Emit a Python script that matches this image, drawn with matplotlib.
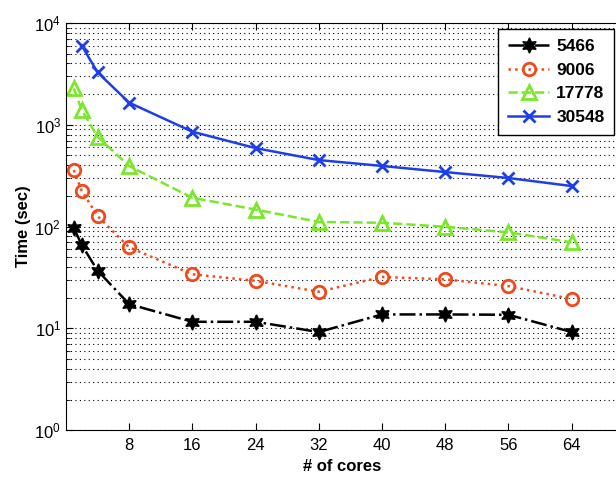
import numpy as np
import matplotlib.pyplot as plt
from matplotlib.ticker import LogLocator, NullFormatter

plt.rcParams['font.family'] = ['Liberation Sans', 'DejaVu Sans']

cores = [1, 2, 4, 8, 16, 24, 32, 40, 48, 56, 64]
t_5466 = [97, 66, 37, 17.3, 11.6, 11.6, 9.2, 13.7, 13.7, 13.6, 9.2]
t_9006 = [359, 225, 127, 62.5, 34, 29.3, 22.9, 32, 30.3, 26, 19.4]
t_17778 = [2280, 1400, 763, 393, 192, 147, 111, 109, 99.5, 87.7, 70]
cores_30548 = [2, 4, 8, 16, 24, 32, 40, 48, 56, 64]
t_30548 = [6000, 3280, 1650, 855, 590, 450, 394, 343, 300, 250]

xticks = [8, 16, 24, 32, 40, 48, 56, 64]

fig = plt.figure(figsize=(6.16, 4.79), dpi=100)
ax = fig.add_axes([0.107, 0.102, 0.898, 0.850])

ax.plot(cores, t_5466, linestyle='-.', color='black', marker=(6, 1, 0),
        markersize=11, linewidth=1.8, label='5466')
ax.plot(cores, t_9006, linestyle=':', color='#f04a1c', marker='o', markersize=9,
        markerfacecolor='none', markeredgewidth=2, linewidth=1.8, label='9006')
ax.plot(cores, t_17778, linestyle='--', color='#7ae82a', marker='^', markersize=10,
        markerfacecolor='none', markeredgewidth=2, linewidth=1.8, label='17778')
ax.plot(cores_30548, t_30548, linestyle='-', color='#1d3fe8', marker='x', markersize=9,
        markeredgewidth=2, linewidth=1.8, label='30548')

ax.set_yscale('log')
ax.set_ylim(1, 1e4)
ax.set_xlim(0, 70)
ax.set_xticks(xticks)
ax.yaxis.set_minor_locator(LogLocator(base=10, subs=np.arange(2, 10)))
ax.yaxis.set_minor_formatter(NullFormatter())
ax.grid(axis='y', which='both', linestyle=(0, (1, 3)), color='black', linewidth=0.8)
ax.tick_params(which='both', direction='in', top=True, right=False, labelsize=12)
ax.tick_params(axis='x', pad=6)
ax.tick_params(which='major', length=5)
ax.tick_params(which='minor', length=3)
ax.spines['right'].set_visible(False)

ax.set_xlabel('# of cores', fontweight='bold', fontsize=12, labelpad=4)
ax.set_ylabel('Time (sec)', fontweight='bold', fontsize=12, labelpad=2)

leg = ax.legend(loc='upper right', bbox_to_anchor=(0.991, 0.985), borderaxespad=0,
                fancybox=False, framealpha=1, edgecolor='black', handlelength=2.4,
                handletextpad=0.4, labelspacing=0.5, borderpad=0.55,
                prop={'size': 12.5, 'weight': 'bold'})
leg.get_frame().set_linewidth(1)

fig.savefig('out.png', dpi=100)
